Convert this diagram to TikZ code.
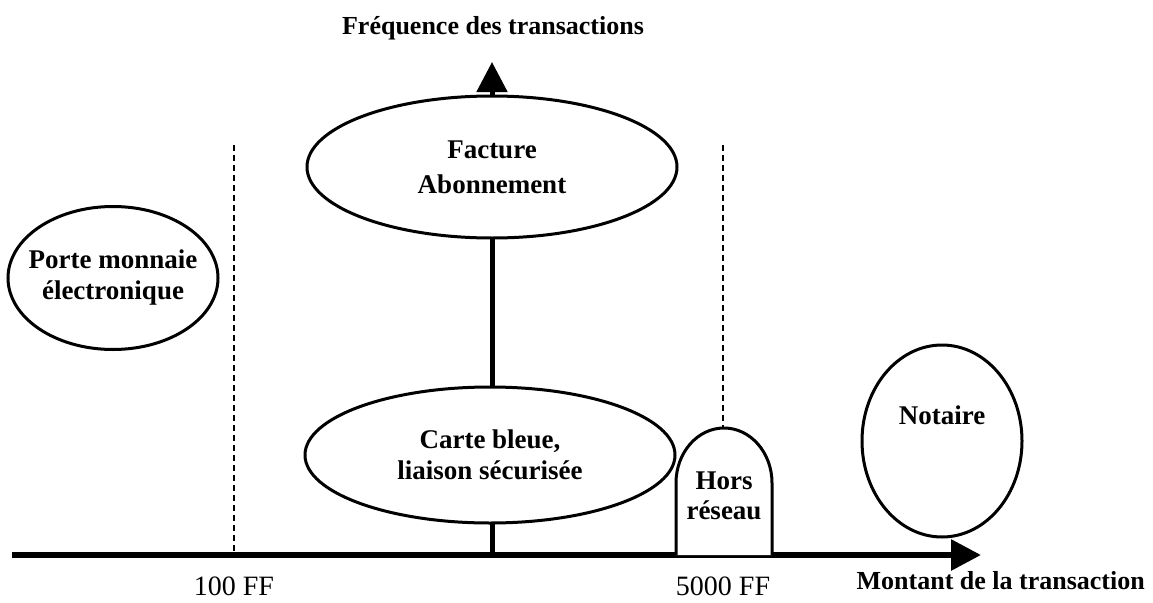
\documentclass[tikz,border=0pt]{standalone}
\usepackage{fontspec}
\setmainfont{Liberation Serif}
\usetikzlibrary{shapes.geometric,arrows.meta,positioning}

\begin{document}
\begin{tikzpicture}[
    x=1pt, y=1pt,
    bubble/.style={ellipse, draw, line width=3pt, fill=white, inner sep=0pt, align=center, font=\fontsize{27}{31}\selectfont\bfseries},
    word/.style={align=center, inner sep=0pt, font=\fontsize{27}{30}\selectfont\bfseries},
    amount/.style={inner sep=0pt, font=\fontsize{28}{32}\selectfont},
    axis/.style={line width=6pt, -{Triangle[length=30pt,width=30pt]}},
    guide/.style={line width=1.5pt, dash pattern=on 6pt off 4pt}
]
\useasboundingbox (0,0) rectangle (1153,-602);

% Axes
\coordinate (origin) at (12,-555);
\coordinate (xend) at (981,-555);
\coordinate (yfoot) at (492,-555);
\coordinate (yend) at (492,-62);
\draw[axis] (origin) -- (xend);
\draw[axis, line width=5pt] (yfoot) -- (yend);

% Thresholds
\coordinate (cent) at (234,-555);
\coordinate (centtop) at (234,-145);
\coordinate (cinqmille) at (723,-428);
\coordinate (cinqmilletop) at (723,-145);
\draw[guide] (centtop) -- (cent);
\draw[guide] (cinqmilletop) -- (cinqmille);

% Payment means
\node[bubble, font=\fontsize{27}{35}\selectfont\bfseries, minimum width=370pt, minimum height=142pt] (facture) at (492,-167) {Facture\\Abonnement};
\node[bubble, minimum width=370pt, minimum height=136pt] (carte) at (490,-455) {Carte bleue,\\liaison sécurisée};
\node[bubble, inner xsep=-11pt, minimum width=210pt, minimum height=143pt] (porte) at (113,-278) {Porte monnaie\\électronique};
\node[bubble, minimum width=160pt, minimum height=192pt] (notaire) at (942,-441) {};
\node[word] (notairetxt) at (942,-415) {Notaire};

% Hors reseau
\coordinate (horsleft) at (676,-555);
\coordinate (horsright) at (772,-555);
\draw[line width=3pt, fill=white] (horsleft) -- (676,-483) arc (180:0:48 and 55) -- (horsright);
\node[word] (hors) at (724,-496) {Hors\\réseau};

% Labels
\node[amount, below=22pt of cent] (lblcent) {100 FF};
\node[amount, below=22pt of yfoot -| cinqmille] (lblcinq) {5000 FF};
\node[word, font=\fontsize{26}{30}\selectfont\bfseries, anchor=east] (montant) at (1145,-581) {Montant de la transaction};
\node[word, font=\fontsize{26}{30}\selectfont\bfseries] (frequence) at (493,-28) {Fréquence des transactions};

\end{tikzpicture}
\end{document}
